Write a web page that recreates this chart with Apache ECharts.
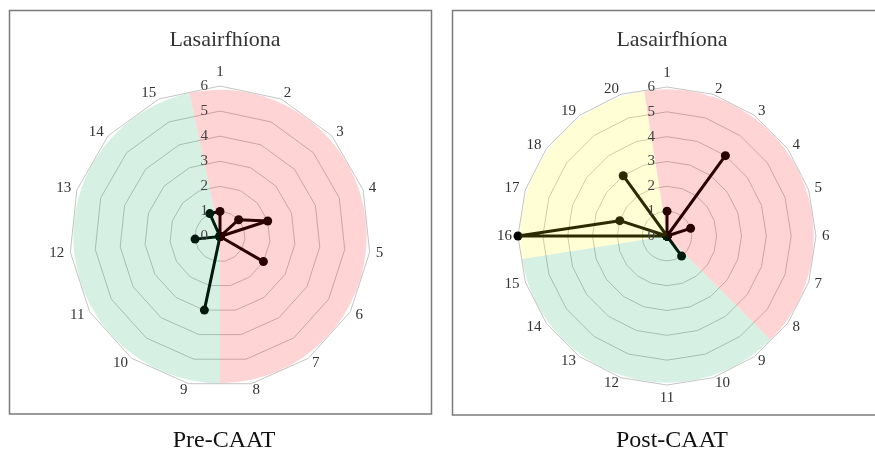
<!DOCTYPE html>
<html>
<head>
<meta charset="utf-8">
<script src="https://cdn.jsdelivr.net/npm/echarts@6/dist/echarts.min.js"></script>
<style>
  html, body { margin: 0; padding: 0; background: #fff; }
  #chart { width: 875px; height: 453px; }
</style>
</head>
<body>
<div id="chart"></div>
<script>
// valeurs
var panelTitle = 'Lasairfhíona';
var captions = ['Pre-CAAT', 'Post-CAAT'];

var preAxes = ['1', '2', '3', '4', '5', '6', '7', '8', '9', '10', '11', '12', '13', '14', '15'];
var preValues = [1, 0, 1, 2, 0, 2, 0, 0, 3, 0, 0, 1, 0, 0, 1];
var preZones = [8, 7];            // axes in red, green zone

var postAxes = ['1', '2', '3', '4', '5', '6', '7', '8', '9', '10', '11', '12', '13', '14', '15', '16', '17', '18', '19', '20'];
var postValues = [1, 0, 4, 0, 1, 0, 0, 0, 1, 0, 0, 0, 0, 0, 0, 6, 2, 0, 3, 0];
var postZones = [8, 7, 5];        // red, green, yellow

var radialTicks = ['0', '1', '2', '3', '4', '5', '6'];
var radialMax = 6;

var zoneColors = ['rgba(255,0,0,0.17)', 'rgba(0,165,80,0.16)', 'rgba(255,248,0,0.17)'];
var serif = '"Liberation Serif", "DejaVu Serif", serif';

var panels = [
    { axes: preAxes, values: preValues, zones: preZones, cx: 220, cy: 236.5, r: 150.5, capX: 219 },
    { axes: postAxes, values: postValues, zones: postZones, cx: 667, cy: 236, r: 149, capX: 667 }
];

// radar in echarts turns counter-clockwise: keep the first axis, reverse the rest
function clockwise(arr) {
    return [arr[0]].concat(arr.slice(1).reverse());
}

var myChart = echarts.init(document.getElementById('chart'));

var option = {
    animation: false,
    title: [],
    radar: [],
    polar: [],
    angleAxis: [],
    radiusAxis: [],
    series: [],
    graphic: [
        { type: 'rect', shape: { x: 9.5, y: 10.5, width: 422, height: 403.5 }, style: { fill: 'none', stroke: '#7a7a7a', lineWidth: 1.5 }, z: 100 },
        { type: 'rect', shape: { x: 452.5, y: 10.5, width: 440, height: 404.5 }, style: { fill: 'none', stroke: '#7a7a7a', lineWidth: 1.5 }, z: 100 }
    ]
};

panels.forEach(function (p, i) {
    var n = p.axes.length;

    option.title.push({
        text: panelTitle,
        left: p.cx, top: 24, textAlign: 'center',
        textStyle: { fontFamily: serif, fontSize: 22, fontWeight: 'normal', color: '#333' }
    });
    option.title.push({
        text: captions[i],
        left: p.capX, top: 424, textAlign: 'center',
        textStyle: { fontFamily: serif, fontSize: 24, fontWeight: 'normal', color: '#111' }
    });

    option.radar.push({
        center: [p.cx, p.cy],
        radius: p.r,
        startAngle: 90,
        shape: 'polygon',
        splitNumber: radialMax,
        indicator: clockwise(p.axes).map(function (a) { return { name: a, min: 0, max: radialMax }; }),
        axisName: { color: '#333', fontSize: 15, fontFamily: serif },
        nameGap: 6,
        axisLine: { show: false },
        axisTick: { show: false },
        axisLabel: { show: false },
        splitArea: { show: false },
        splitLine: { lineStyle: { color: '#c4c4c4', width: 1 } }
    });

    // radial tick labels 0..6 along axis 1
    option.polar.push({ center: [p.cx, p.cy], radius: p.r });
    option.angleAxis.push({
        polarIndex: i, type: 'value', startAngle: 90, min: 0, max: 360, show: false
    });
    option.radiusAxis.push({
        polarIndex: i, type: 'category', data: radialTicks, boundaryGap: false,
        axisLine: { show: false }, axisTick: { show: false }, splitLine: { show: false },
        axisLabel: { color: '#444', fontSize: 15, fontFamily: serif, margin: 12 },
        z: 20
    });

    option.series.push({
        type: 'radar',
        radarIndex: i,
        symbol: 'circle',
        symbolSize: 9,
        lineStyle: { color: '#000', width: 3 },
        itemStyle: { color: '#000' },
        data: [{ value: clockwise(p.values) }],
        z: 3
    });

    // coloured zones, laid over the lines so they tint them
    var start = 90 + 180 / n;
    option.series.push({
        type: 'pie',
        center: [p.cx, p.cy],
        radius: [0, p.r * Math.cos(Math.PI / n) - 0.5],
        startAngle: start,
        clockwise: true,
        silent: true,
        label: { show: false },
        labelLine: { show: false },
        itemStyle: { borderWidth: 0 },
        emphasis: { disabled: true },
        data: p.zones.map(function (c, k) {
            return { value: c, itemStyle: { color: zoneColors[k] } };
        }),
        z: 10
    });
});

myChart.setOption(option);
</script>
</body>
</html>
